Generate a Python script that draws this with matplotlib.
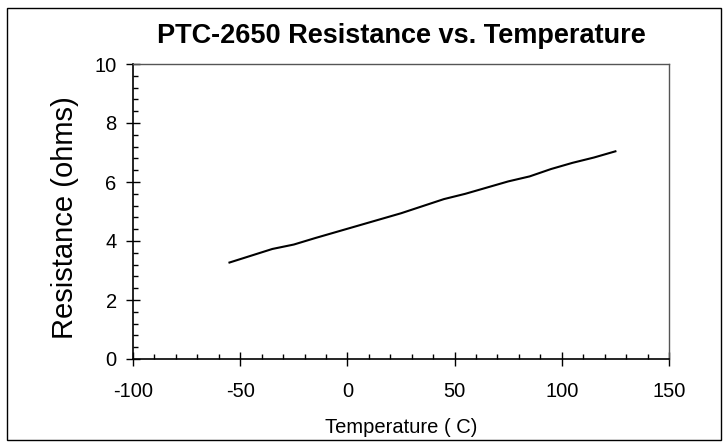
import matplotlib.pyplot as plt
from matplotlib.patches import Rectangle
from matplotlib.ticker import MultipleLocator

plt.rcParams['font.family'] = ['Liberation Sans', 'DejaVu Sans']
plt.rcParams['axes.unicode_minus'] = False

# Data
temperature = [-55, -45, -35, -25, -15, -5, 5, 15, 25, 35, 45, 55, 65, 75, 85, 95, 105, 115, 125]
resistance = [3.27, 3.50, 3.73, 3.88, 4.10, 4.31, 4.52, 4.73, 4.94, 5.18, 5.42, 5.60, 5.81, 6.02, 6.19, 6.44, 6.65, 6.83, 7.04]

fig = plt.figure(figsize=(7.27, 4.45), dpi=100)
ax = fig.add_axes([133 / 727, 86 / 445, 536 / 727, 295 / 445])

ax.plot(temperature, resistance, color='black', linewidth=1.5)

ax.set_xlim(-100, 150)
ax.set_ylim(0, 10)
ax.xaxis.set_major_locator(MultipleLocator(50))
ax.xaxis.set_minor_locator(MultipleLocator(10))
ax.yaxis.set_major_locator(MultipleLocator(2))
ax.yaxis.set_minor_locator(MultipleLocator(0.4))
ax.tick_params(which='major', direction='inout', length=9.4, width=1, labelsize=14.5)
ax.tick_params(axis='x', which='major', pad=12)
ax.tick_params(axis='y', which='major', pad=7)
ax.tick_params(which='minor', direction='in', length=3.6, width=1)

for side in ['left', 'bottom']:
    ax.spines[side].set_color('black')
    ax.spines[side].set_linewidth(1.2)
for side in ['top', 'right']:
    ax.spines[side].set_color('#555555')
    ax.spines[side].set_linewidth(1)

ax.set_title('PTC-2650 Resistance vs. Temperature', fontsize=19.5, fontweight='bold', pad=15)
ax.set_xlabel('Temperature ( C)', fontsize=14.5, labelpad=12)
ax.set_ylabel('Resistance (ohms)', fontsize=21)
ax.yaxis.set_label_coords(-0.1, 0.48)

# outer chart border
fig.patches.append(Rectangle((7 / 727, 5 / 445), 714 / 727, 432 / 445, transform=fig.transFigure,
                             fill=False, edgecolor='black', linewidth=1))

fig.savefig('out.png', dpi=100)
